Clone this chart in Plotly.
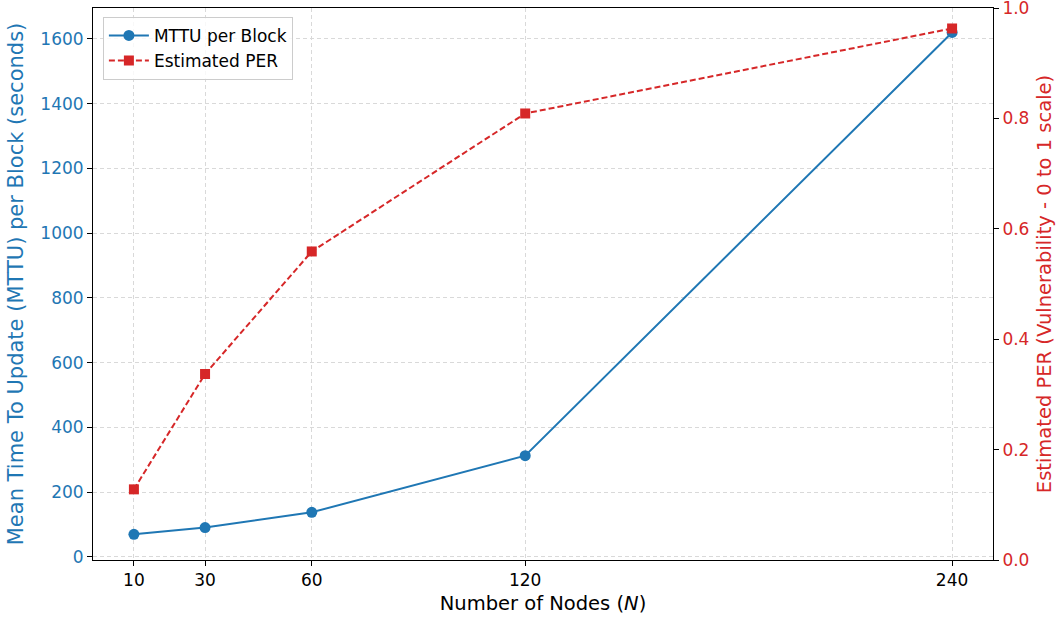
import plotly.graph_objects as go

nodes = [10, 30, 60, 120, 240]
mttu = [70, 91, 138, 313, 1620]
per = [0.128, 0.337, 0.559, 0.809, 0.963]
left_ticks = [0, 200, 400, 600, 800, 1000, 1200, 1400, 1600]
right_ticks = [0.0, 0.2, 0.4, 0.6, 0.8, 1.0]

blue = "#1f77b4"
red = "#d62728"
font = "DejaVu Sans"

fig = go.Figure()
fig.add_trace(go.Scatter(x=nodes, y=mttu, mode="lines+markers", name="MTTU per Block",
                         line=dict(color=blue, width=2), marker=dict(symbol="circle", size=11, color=blue)))
fig.add_trace(go.Scatter(x=nodes, y=per, mode="lines+markers", name="Estimated PER", yaxis="y2",
                         line=dict(color=red, width=2, dash="6px,3px"),
                         marker=dict(symbol="square", size=10, color=red)))

fig.update_layout(
    width=1064, height=622,
    margin=dict(l=93, r=71, t=8, b=62, autoexpand=False),
    paper_bgcolor="white", plot_bgcolor="white",
    font=dict(family=font, size=17, color="black"),
    showlegend=True,
    legend=dict(x=0.011, y=0.984, xanchor="left", yanchor="top",
                bgcolor="rgba(255,255,255,0.8)", bordercolor="#cccccc", borderwidth=1,
                font=dict(size=17, family=font), itemwidth=40, tracegroupgap=2),
    xaxis=dict(range=[-1.5, 251.5], tickvals=nodes, ticktext=[str(n) for n in nodes],
               automargin=False,
               showline=True, linecolor="black", linewidth=1, mirror=True,
               ticks="outside", ticklen=5, tickcolor="black",
               showgrid=True, gridcolor="#d9d9d9", griddash="4px,3px", gridwidth=1,
               zeroline=False, tickfont=dict(size=17),
               title=dict(text="Number of Nodes (<i>N</i>)", font=dict(size=19.5), standoff=6)),
    yaxis=dict(range=[-9.3, 1695.5], tickvals=left_ticks,
               automargin=False,
               showline=True, linecolor="black", linewidth=1,
               ticks="outside", ticklen=5, tickcolor="black",
               showgrid=True, gridcolor="#d9d9d9", griddash="4px,3px", gridwidth=1,
               zeroline=False, tickfont=dict(size=17, color=blue),
               title=dict(text="Mean Time To Update (MTTU) per Block (seconds)",
                          font=dict(size=21, color=blue), standoff=10)),
    yaxis2=dict(range=[0, 1.0001], tickvals=right_ticks, ticktext=["0.0", "0.2", "0.4", "0.6", "0.8", "1.0"],
                overlaying="y", side="right", automargin=False, ticklabeloverflow="allow",
                showline=True, linecolor="black", linewidth=1,
                ticks="outside", ticklen=5, tickcolor="black",
                showgrid=False, zeroline=False, tickfont=dict(size=17, color=red),
                title=dict(text="Estimated PER (Vulnerability - 0 to 1 scale)",
                           font=dict(size=19.5, color=red), standoff=8)),
)

fig.write_html("out.html", config={"displayModeBar": False},
               post_script="document.body.style.margin='0';")
